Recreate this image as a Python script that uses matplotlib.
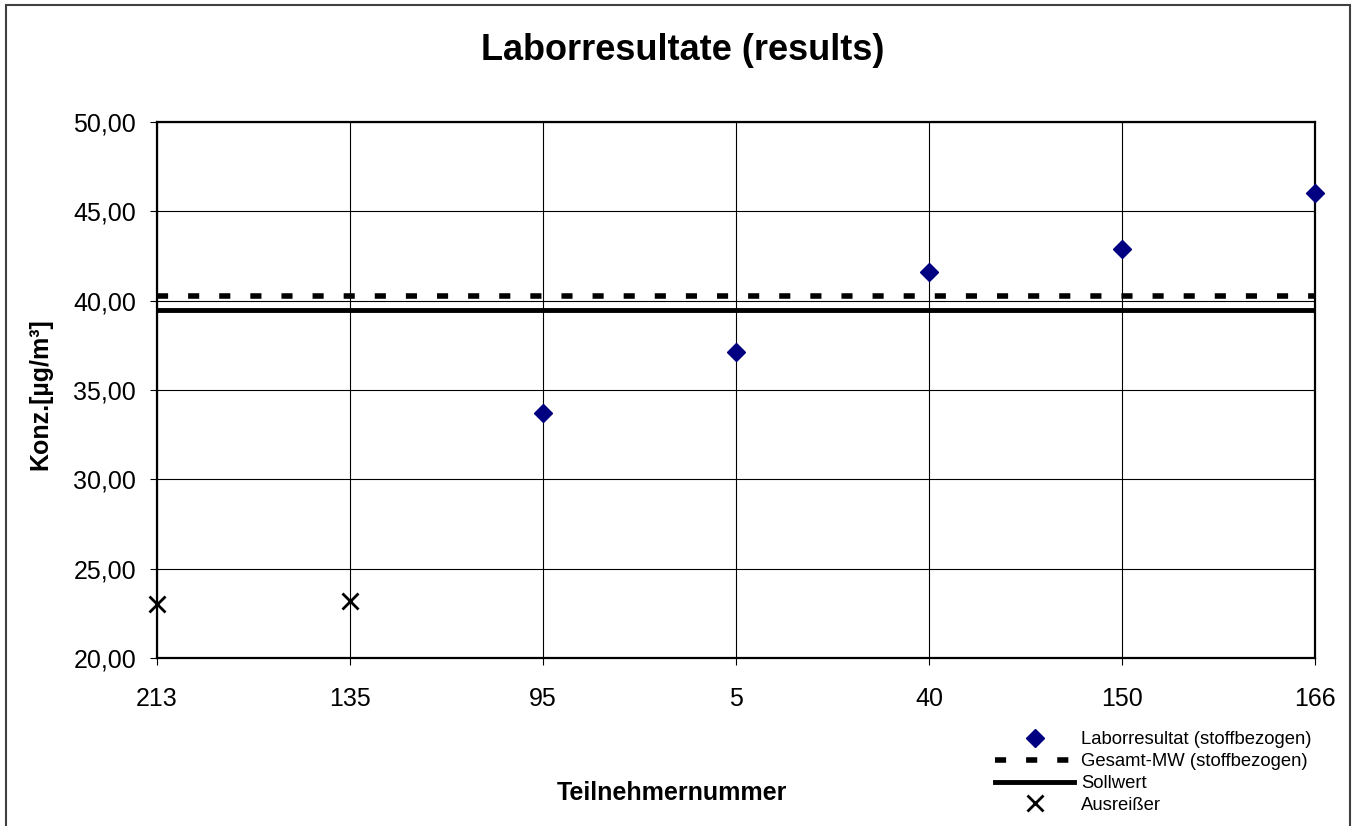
import matplotlib
matplotlib.use("Agg")
import matplotlib.pyplot as plt
from matplotlib.ticker import FuncFormatter, MultipleLocator
from matplotlib.patches import Rectangle

plt.rcParams["font.family"] = ["Liberation Sans", "DejaVu Sans"]

# participant numbers along the x axis
participants = ["213", "135", "95", "5", "40", "150", "166"]

# lab results (participant index -> value)
result_idx = [2, 3, 4, 5, 6]
result_vals = [33.7, 37.15, 41.6, 42.9, 46.0]

# outliers
outlier_idx = [0, 1]
outlier_vals = [23.05, 23.2]

overall_mean = 40.25
target_value = 39.45

fig = plt.figure(figsize=(13.56, 8.26), dpi=100)
ax = fig.add_axes([157 / 1356, 1 - 658 / 826, 1158 / 1356, 536 / 826])

ax.axhline(overall_mean, color="black", lw=4, linestyle=(0, (2.0, 3.6)),
           label="Gesamt-MW (stoffbezogen)", zorder=3)
ax.axhline(target_value, color="black", lw=3.5, label="Sollwert", zorder=3)
ax.plot(result_idx, result_vals, linestyle="none", marker="D", ms=9,
        color="#000080", mec="#000080", label="Laborresultat (stoffbezogen)",
        zorder=4, clip_on=False)
ax.plot(outlier_idx, outlier_vals, linestyle="none", marker="x", ms=11, mew=2,
        color="black", label="Ausreißer", zorder=4, clip_on=False)

ax.set_xlim(0, len(participants) - 1)
ax.set_ylim(20, 50)
ax.set_xticks(range(len(participants)))
ax.set_xticklabels(participants)
ax.yaxis.set_major_locator(MultipleLocator(5))
ax.yaxis.set_major_formatter(FuncFormatter(lambda v, p: f"{v:.2f}".replace(".", ",")))

ax.grid(True, color="black", lw=0.8)
ax.set_axisbelow(True)
for s in ax.spines.values():
    s.set_linewidth(1.6)
    s.set_color("black")
ax.tick_params(axis="y", labelsize=18, length=5, width=0.8, pad=10)
ax.tick_params(axis="x", labelsize=18, length=5, width=0.8, pad=16)

ax.set_xlabel("Teilnehmernummer", fontsize=18, fontweight="bold")
ax.xaxis.set_label_coords(0.445, -0.252)
ax.xaxis.label.set_va("center")
ax.set_ylabel("Konz.[µg/m³]", fontsize=18, fontweight="bold")
ax.yaxis.set_label_coords(-0.101, 0.4925)
ax.yaxis.label.set_va("center")

fig.text(683 / 1356, 1 - 50 / 826, "Laborresultate (results)", fontsize=26,
         fontweight="bold", ha="center", va="center")

handles, labels = ax.get_legend_handles_labels()
order = [2, 0, 1, 3]
fig.legend([handles[i] for i in order], [labels[i] for i in order],
           loc="upper left", bbox_to_anchor=(995 / 1356, 1 - 731 / 826),
           bbox_transform=fig.transFigure, frameon=False, fontsize=13.3,
           handlelength=4.3, handletextpad=0.35, labelspacing=0.27,
           borderpad=0, borderaxespad=0, numpoints=1)

fig.patches.append(Rectangle((6 / 1356, -0.05), 1344 / 1356, 1.05 - 5 / 826,
                             transform=fig.transFigure, fill=False,
                             edgecolor="#404040", lw=1.5))

fig.savefig("out.png", dpi=100)
